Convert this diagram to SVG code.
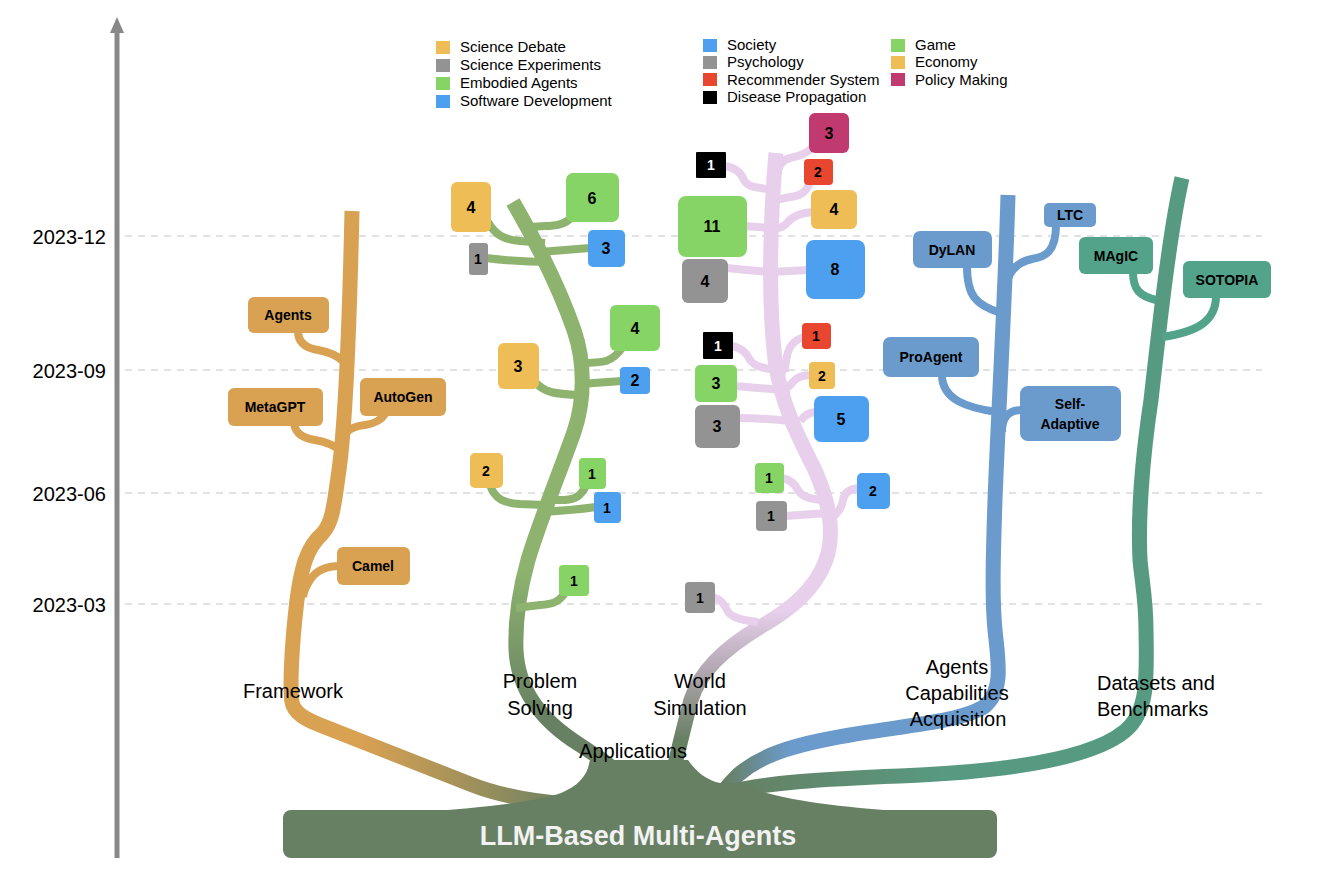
<svg xmlns="http://www.w3.org/2000/svg" width="1326" height="878" viewBox="0 0 1326 878">
<style>
.grid{stroke:#d9d9d9;stroke-width:1.5;stroke-dasharray:7 6;fill:none}
.date{font-family:"Liberation Sans",Arial,sans-serif;font-size:20px;fill:#000;text-anchor:end}
.lab{font-family:"Liberation Sans",Arial,sans-serif;font-size:20px;fill:#000;text-anchor:middle}
.leg{font-family:"Liberation Sans",Arial,sans-serif;font-size:15px;fill:#000}
.n{font-family:"Liberation Sans",Arial,sans-serif;font-size:14px;font-weight:bold;fill:#000;text-anchor:middle}
.nl{font-family:"Liberation Sans",Arial,sans-serif;font-size:16px;font-weight:bold;fill:#000;text-anchor:middle}
.w{fill:#fff}
.t{font-family:"Liberation Sans",Arial,sans-serif;font-size:14px;font-weight:bold;fill:#000;text-anchor:middle}
.trunk{fill:none;stroke-width:15;stroke-linecap:butt;stroke-linejoin:round}
.br{fill:none;stroke-width:8;stroke-linecap:butt}
.fw{stroke:#d9a152}
.ps{stroke:#8db36e}
.ws{stroke:#e8d0ec}
.ac{stroke:#6a9bcc}
.db{stroke:#52a38a}
.cSD{fill:#efbd55}.cSE{fill:#939393}.cEA{fill:#86d466}.cSW{fill:#4da0f0}.cRS{fill:#e8462f}.cDP{fill:#000}.cPM{fill:#c0396f}
.cF{fill:#d9a152}.cA{fill:#6a9bcc}.cD{fill:#52a38a}
</style>
<defs>
<linearGradient id="gFw" gradientUnits="userSpaceOnUse" x1="360" y1="0" x2="570" y2="0">
<stop offset="0" stop-color="#d9a152"/><stop offset="1" stop-color="#6b8262"/>
</linearGradient>
<linearGradient id="gPs" gradientUnits="userSpaceOnUse" x1="0" y1="570" x2="0" y2="720">
<stop offset="0" stop-color="#8db36e"/><stop offset="1" stop-color="#677f63"/>
</linearGradient>
<linearGradient id="gWs" gradientUnits="userSpaceOnUse" x1="0" y1="610" x2="0" y2="740">
<stop offset="0" stop-color="#e8d0ec"/><stop offset="0.45" stop-color="#b3a8b3"/><stop offset="1" stop-color="#677f63"/>
</linearGradient>
<linearGradient id="gAc" gradientUnits="userSpaceOnUse" x1="725" y1="0" x2="790" y2="0">
<stop offset="0" stop-color="#677f63"/><stop offset="1" stop-color="#6a9bcc"/>
</linearGradient>
<linearGradient id="gDb" gradientUnits="userSpaceOnUse" x1="730" y1="0" x2="950" y2="0">
<stop offset="0" stop-color="#677f63"/><stop offset="1" stop-color="#579a82"/>
</linearGradient>
</defs>
<rect width="1326" height="878" fill="#fff"/>

<g id="axis">
<line x1="117" y1="858" x2="117" y2="30" stroke="#888" stroke-width="5"/>
<polygon points="110,33 117,17 124,33" fill="#888"/>
<line class="grid" x1="125" y1="236" x2="1262" y2="236"/>
<line class="grid" x1="125" y1="370" x2="1262" y2="370"/>
<line class="grid" x1="125" y1="493" x2="1262" y2="493"/>
<line class="grid" x1="125" y1="604" x2="1262" y2="604"/>
<text class="date" x="106" y="244">2023-12</text>
<text class="date" x="106" y="378">2023-09</text>
<text class="date" x="106" y="501">2023-06</text>
<text class="date" x="106" y="612">2023-03</text>
</g>

<g id="legend">
<rect class="cSD" x="436" y="41" width="14" height="13"/><text class="leg" x="460" y="52">Science Debate</text>
<rect class="cSE" x="436" y="59" width="14" height="13"/><text class="leg" x="460" y="70">Science Experiments</text>
<rect class="cEA" x="436" y="77" width="14" height="13"/><text class="leg" x="460" y="88">Embodied Agents</text>
<rect class="cSW" x="436" y="95" width="14" height="13"/><text class="leg" x="460" y="106">Software Development</text>
<rect class="cSW" x="703" y="39" width="14" height="13"/><text class="leg" x="727" y="50">Society</text>
<rect class="cSE" x="703" y="56" width="14" height="13"/><text class="leg" x="727" y="67">Psychology</text>
<rect class="cRS" x="703" y="73" width="14" height="13"/><text class="leg" x="727" y="85">Recommender System</text>
<rect class="cDP" x="703" y="91" width="14" height="13"/><text class="leg" x="727" y="102">Disease Propagation</text>
<rect class="cEA" x="891" y="39" width="14" height="13"/><text class="leg" x="915" y="50">Game</text>
<rect class="cSD" x="891" y="56" width="14" height="13"/><text class="leg" x="915" y="67">Economy</text>
<rect class="cPM" x="891" y="73" width="14" height="13"/><text class="leg" x="915" y="85">Policy Making</text>
</g>

<g id="connectors">
<!-- trunks -->
<path class="trunk" stroke="url(#gFw)" stroke-width="16" d="M352,211 C350,300 346,420 339,470 C334,505 333,522 322,534 C306,548 301,570 297,600 C291,650 290,690 292,702 C294,713 305,719 320,725 L470,784 C500,796 530,801 565,804"/>
<path class="trunk" stroke="url(#gPs)" stroke-width="17" d="M513,202 C535,240 560,290 574,330 C585,362 585,400 574,432 C560,472 540,520 528,560 C519,592 515,620 516,650 C518,690 540,720 580,745 C600,758 612,766 622,778"/>
<path class="trunk" stroke="url(#gWs)" stroke-width="17" d="M776,153 C770,220 768,300 775,360 C781,405 800,440 815,470 C828,500 836,530 826,560 C815,590 790,610 760,627 C722,650 700,672 691,700 C683,730 676,760 670,785"/>
<path class="trunk" stroke="url(#gAc)" d="M1008,195 C1005,300 998,420 995,500 C993,560 992,600 995,630 C998,660 1004,690 985,706 C962,722 900,726 850,735 C790,745 760,756 738,775 C728,785 720,795 716,802"/>
<path class="trunk" stroke="url(#gDb)" d="M1182,178 C1170,230 1160,320 1151,400 C1142,460 1138,520 1140,560 C1142,582 1146,600 1146,630 C1147,680 1148,712 1125,731 C1090,760 1000,772 900,776 C820,779 765,783 728,792"/>

<!-- framework branches -->
<path class="br fw" d="M298,331 C298,342 305,348 318,350 C330,352 338,356 344,362"/>
<path class="br fw" d="M294,424 C296,434 303,438 315,440 C328,442 335,446 341,451"/>
<path class="br fw" d="M385,414 C380,422 372,424 365,425 C355,426 350,428 346,433"/>
<path class="br fw" d="M340,566 C325,566 315,572 310,580 C306,586 304,590 303,597"/>

<!-- problem solving branches -->
<path class="br ps" d="M488,222 C495,235 505,240 520,241 L545,243"/>
<path class="br ps" d="M573,216 C565,225 555,226 545,226 L530,227"/>
<path class="br ps" d="M590,248 L540,252"/>
<path class="br ps" d="M486,258 C510,261 525,262 550,262"/>
<path class="br ps" d="M622,348 C612,362 605,363 580,363"/>
<path class="br ps" d="M535,382 C545,393 555,394 580,395"/>
<path class="br ps" d="M622,381 L580,384"/>
<path class="br ps" d="M490,485 C495,500 505,503 520,504 L545,505"/>
<path class="br ps" d="M586,486 C580,497 575,499 565,500 L545,500"/>
<path class="br ps" d="M596,507 C575,510 560,511 538,512"/>
<path class="br ps" d="M565,593 C558,603 552,604 540,605 L516,608"/>

<!-- world simulation branches -->
<path class="br ws" d="M813,147 C805,155 798,156 790,158 C782,160 780,165 778,170"/>
<path class="br ws" d="M725,166 C738,168 742,175 744,180 C748,188 760,188 776,190"/>
<path class="br ws" d="M810,183 C805,193 800,196 790,197 L775,200"/>
<path class="br ws" d="M813,212 C800,213 792,217 788,222 C784,227 780,228 773,229"/>
<path class="br ws" d="M745,226 L772,228"/>
<path class="br ws" d="M726,268 C745,270 755,271 772,272"/>
<path class="br ws" d="M808,270 L772,272"/>
<path class="br ws" d="M804,337 C795,340 790,345 788,352 C786,360 785,365 785,372"/>
<path class="br ws" d="M732,346 C745,349 748,356 750,360 C755,367 765,369 786,371"/>
<path class="br ws" d="M811,375 C800,375 795,379 792,383 C789,387 787,388 784,389"/>
<path class="br ws" d="M735,386 C755,388 770,389 790,390"/>
<path class="br ws" d="M738,418 C760,418 780,420 800,422"/>
<path class="br ws" d="M816,412 C810,412 805,415 800,421"/>
<path class="br ws" d="M782,478 C792,480 796,486 798,490 C802,497 810,499 822,500"/>
<path class="br ws" d="M785,516 C800,515 815,514 828,513"/>
<path class="br ws" d="M859,488 C848,489 844,494 843,500 C842,508 838,512 832,518"/>
<path class="br ws" d="M713,597 C722,600 725,605 727,610 C730,617 740,620 758,622"/>

<!-- capabilities branches -->
<path class="br ac" d="M967,266 C967,295 975,305 1001,313"/>
<path class="br ac" d="M1056,225 C1056,252 1045,257 1032,259 C1018,262 1010,270 1007,282"/>
<path class="br ac" d="M942,375 C942,400 968,408 997,412"/>
<path class="br ac" d="M1022,410 C1008,410 1002,418 1002,432"/>

<!-- datasets branches -->
<path class="br db" d="M1133,272 C1133,290 1140,296 1156,300"/>
<path class="br db" d="M1216,296 C1216,322 1196,332 1162,337"/>
</g>

<g id="root">
<path fill="#677f63" d="M420,812 C480,808 530,802 555,795 C572,790 584,780 588,768 L590,760 L688,760 C695,770 705,780 720,783 L745,785 C770,797 820,806 910,812 Z"/>
<rect x="283" y="810" width="714" height="48" rx="8" fill="#677f63"/>
<text x="638" y="845" font-family="'Liberation Sans',Arial,sans-serif" font-size="27" font-weight="bold" fill="#f2f2f2" text-anchor="middle">LLM-Based Multi-Agents</text>
<text class="lab" x="633" y="758">Applications</text>
</g>

<g id="framework">
<text class="lab" x="293" y="698">Framework</text>
<g id="fw-agents"><rect class="cF" x="248" y="297" width="81" height="36" rx="6"/><text class="t" x="288" y="320">Agents</text></g>
<g id="fw-metagpt"><rect class="cF" x="228" y="388" width="95" height="38" rx="6"/><text class="t" x="275" y="412">MetaGPT</text></g>
<g id="fw-autogen"><rect class="cF" x="360" y="378" width="86" height="38" rx="6"/><text class="t" x="403" y="402">AutoGen</text></g>
<g id="fw-camel"><rect class="cF" x="337" y="547" width="73" height="38" rx="6"/><text class="t" x="373" y="571">Camel</text></g>
</g>

<g id="problem-solving">
<text class="lab" x="540" y="688">Problem</text>
<text class="lab" x="540" y="715">Solving</text>
<g id="ps1"><rect class="cSD" x="451" y="182" width="40" height="50" rx="6"/><text class="nl" x="471" y="213">4</text></g>
<g id="ps2"><rect class="cEA" x="566" y="173" width="53" height="49" rx="7"/><text class="nl" x="592" y="204">6</text></g>
<g id="ps3"><rect class="cSW" x="588" y="230" width="37" height="37" rx="5"/><text class="nl" x="606" y="254">3</text></g>
<g id="ps4"><rect class="cSE" x="469" y="243" width="19" height="32" rx="3"/><text class="n" x="478" y="264">1</text></g>
<g id="ps5"><rect class="cEA" x="610" y="305" width="50" height="46" rx="6"/><text class="nl" x="635" y="334">4</text></g>
<g id="ps6"><rect class="cSD" x="498" y="343" width="41" height="46" rx="6"/><text class="nl" x="518" y="372">3</text></g>
<g id="ps7"><rect class="cSW" x="620" y="367" width="30" height="27" rx="4"/><text class="nl" x="635" y="386">2</text></g>
<g id="ps8"><rect class="cSD" x="470" y="453" width="33" height="35" rx="5"/><text class="n" x="486" y="476">2</text></g>
<g id="ps9"><rect class="cEA" x="579" y="458" width="27" height="31" rx="4"/><text class="n" x="592" y="479">1</text></g>
<g id="ps10"><rect class="cSW" x="594" y="492" width="27" height="31" rx="4"/><text class="n" x="607" y="513">1</text></g>
<g id="ps11"><rect class="cEA" x="559" y="565" width="30" height="31" rx="4"/><text class="n" x="574" y="586">1</text></g>
</g>

<g id="world-simulation">
<text class="lab" x="700" y="688">World</text>
<text class="lab" x="700" y="715">Simulation</text>
<g id="ws1"><rect class="cPM" x="809" y="113" width="40" height="40" rx="6"/><text class="nl" x="829" y="139">3</text></g>
<g id="ws2"><rect class="cDP" x="696" y="152" width="30" height="26" rx="1"/><text class="n w" x="711" y="170">1</text></g>
<g id="ws3"><rect class="cRS" x="804" y="159" width="29" height="26" rx="4"/><text class="n" x="818" y="177">2</text></g>
<g id="ws4"><rect class="cSD" x="811" y="190" width="46" height="39" rx="6"/><text class="nl" x="834" y="215">4</text></g>
<g id="ws5"><rect class="cEA" x="678" y="196" width="69" height="61" rx="8"/><text class="nl" x="712" y="232">11</text></g>
<g id="ws6"><rect class="cSE" x="682" y="259" width="46" height="44" rx="6"/><text class="nl" x="705" y="287">4</text></g>
<g id="ws7"><rect class="cSW" x="806" y="240" width="59" height="59" rx="8"/><text class="nl" x="835" y="275">8</text></g>
<g id="ws8"><rect class="cRS" x="802" y="323" width="29" height="26" rx="4"/><text class="n" x="816" y="341">1</text></g>
<g id="ws9"><rect class="cDP" x="703" y="332" width="30" height="27" rx="1"/><text class="n w" x="718" y="351">1</text></g>
<g id="ws10"><rect class="cSD" x="809" y="362" width="26" height="27" rx="4"/><text class="n" x="822" y="381">2</text></g>
<g id="ws11"><rect class="cEA" x="695" y="365" width="42" height="37" rx="5"/><text class="nl" x="716" y="389">3</text></g>
<g id="ws12"><rect class="cSE" x="695" y="405" width="45" height="43" rx="6"/><text class="nl" x="717" y="432">3</text></g>
<g id="ws13"><rect class="cSW" x="814" y="396" width="55" height="46" rx="7"/><text class="nl" x="841" y="425">5</text></g>
<g id="ws14"><rect class="cEA" x="755" y="463" width="29" height="30" rx="4"/><text class="n" x="769" y="483">1</text></g>
<g id="ws15"><rect class="cSE" x="756" y="501" width="31" height="30" rx="4"/><text class="n" x="771" y="521">1</text></g>
<g id="ws16"><rect class="cSW" x="857" y="473" width="33" height="36" rx="5"/><text class="n" x="873" y="496">2</text></g>
<g id="ws17"><rect class="cSE" x="685" y="582" width="30" height="31" rx="4"/><text class="n" x="700" y="603">1</text></g>
</g>

<g id="capabilities">
<text class="lab" x="957" y="674">Agents</text>
<text class="lab" x="957" y="700">Capabilities</text>
<text class="lab" x="958" y="726">Acquisition</text>
<g id="ac-dylan"><rect class="cA" x="913" y="231" width="79" height="37" rx="7"/><text class="t" x="952" y="255">DyLAN</text></g>
<g id="ac-ltc"><rect class="cA" x="1044" y="203" width="52" height="24" rx="5"/><text class="t" x="1070" y="220">LTC</text></g>
<g id="ac-proagent"><rect class="cA" x="883" y="337" width="96" height="40" rx="7"/><text class="t" x="931" y="362">ProAgent</text></g>
<g id="ac-self"><rect class="cA" x="1020" y="386" width="101" height="55" rx="8"/><text class="t" x="1070" y="409">Self-</text><text class="t" x="1070" y="429">Adaptive</text></g>
</g>

<g id="datasets">
<text x="1097" y="690" font-family="'Liberation Sans',Arial,sans-serif" font-size="20">Datasets and</text>
<text x="1097" y="716" font-family="'Liberation Sans',Arial,sans-serif" font-size="20">Benchmarks</text>
<g id="db-magic"><rect class="cD" x="1079" y="237" width="74" height="37" rx="6"/><text class="t" x="1116" y="261">MAgIC</text></g>
<g id="db-sotopia"><rect class="cD" x="1183" y="261" width="88" height="37" rx="6"/><text class="t" x="1227" y="285">SOTOPIA</text></g>
</g>
</svg>
